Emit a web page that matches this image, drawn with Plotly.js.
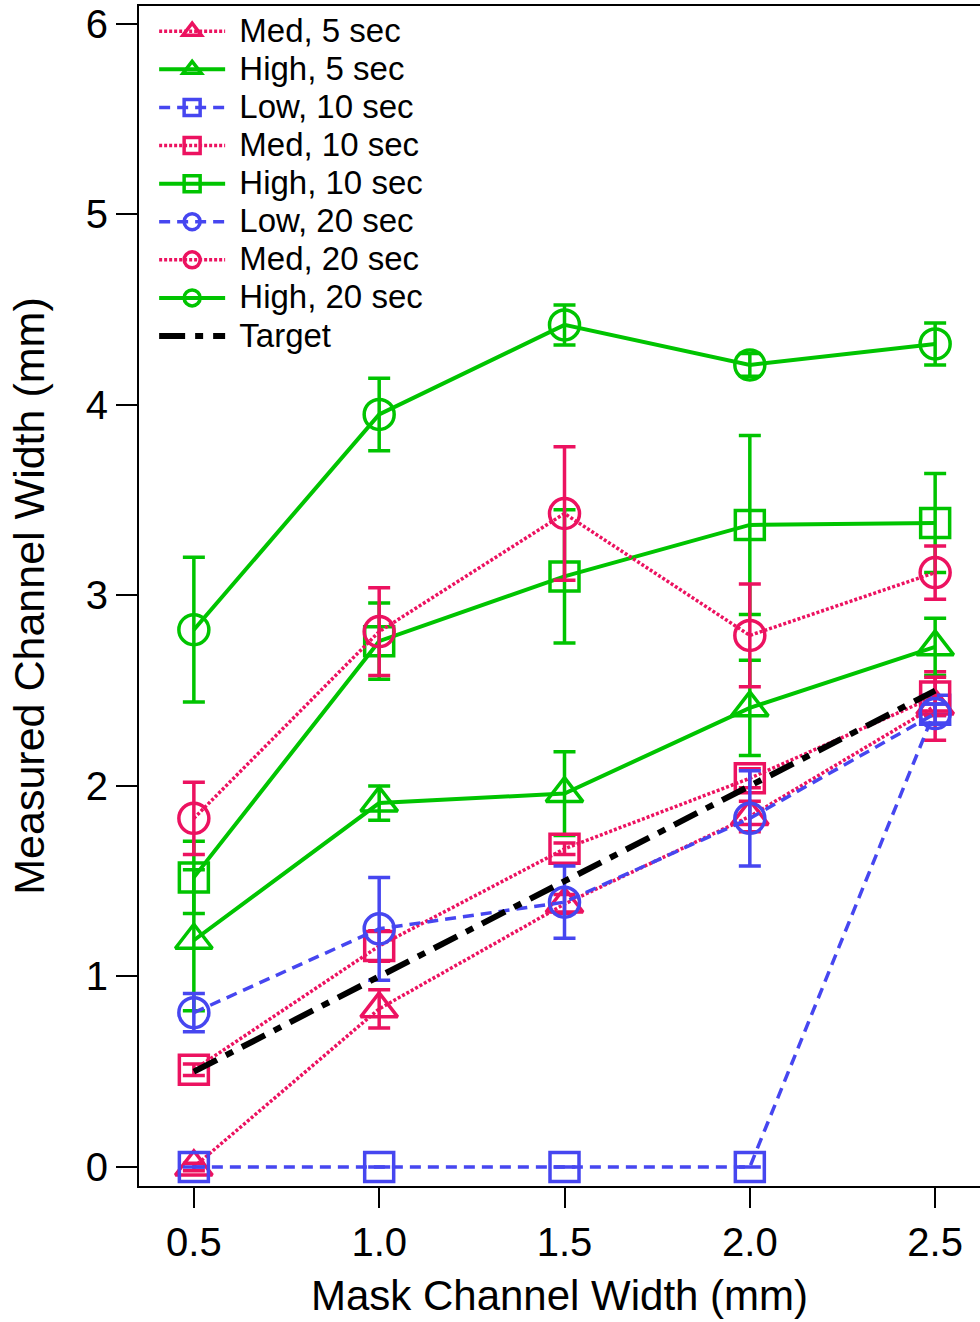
<!DOCTYPE html>
<html>
<head>
<meta charset="utf-8">
<script src="https://cdn.plot.ly/plotly-3.0.1.min.js"></script>
<style>html,body{margin:0;padding:0;background:#fff;}#chart{width:980px;height:1322px;}</style>
</head>
<body>
<div id="chart"></div>
<script>
// Mask channel widths (mm)
const maskWidth = [0.5, 1.0, 1.5, 2.0, 2.5];

// Series names
const seriesNames = ["Med, 5 sec", "High, 5 sec", "Low, 10 sec", "Med, 10 sec", "High, 10 sec",
                     "Low, 20 sec", "Med, 20 sec", "High, 20 sec", "Target"];

// Measured channel widths (mm)
const med5   = [0.00, 0.83, 1.38, 1.84, 2.42];
const high5  = [1.19, 1.91, 1.96, 2.41, 2.73];
const low10  = [0.00, 0.00, 0.00, 0.00, 2.40];
const med10  = [0.51, 1.16, 1.67, 2.04, 2.47];
const high10 = [1.52, 2.76, 3.10, 3.37, 3.38];
const low20  = [0.81, 1.25, 1.39, 1.83, 2.38];
const med20  = [1.83, 2.81, 3.43, 2.79, 3.12];
const high20 = [2.82, 3.95, 4.42, 4.21, 4.32];
const target = [0.5, 1.0, 1.5, 2.0, 2.5];

// Error bars (mm)
const med5Err   = [0.02, 0.10, 0.05, 0.08, 0.18];
const high5Err  = [0.37, 0.09, 0.22, 0.25, 0.15];
const low10Err  = [0.00, 0.00, 0.00, 0.00, 0.03];
const med10Err  = [0.03, 0.08, 0.03, 0.05, 0.10];
const high10Err = [0.19, 0.20, 0.35, 0.47, 0.26];
const low20Err  = [0.10, 0.27, 0.19, 0.25, 0.05];
const med20Err  = [0.19, 0.23, 0.35, 0.27, 0.14];
const high20Err = [0.38, 0.19, 0.105, 0.06, 0.11];

const PINK = "#EC1260";
const GREEN = "#00C400";
const BLUE = "#4646F0";

function legendName(name) {
  return '<span style="font-size:33px">&#160;' + name + '</span>';
}

function tr(name, y, err, color, dash, lw, symbol, size) {
  return {
    x: maskWidth, y: y, type: "scatter", mode: "lines+markers",
    name: legendName(name),
    line: {color: color, width: lw, dash: dash},
    marker: {symbol: symbol, size: size, color: color, line: {color: color, width: 3.5}},
    error_y: {type: "data", array: err, visible: true, color: color, thickness: 3.5, width: 11},
    cliponaxis: false
  };
}

const dotDash = "3px,2px";
const blueDash = "11px,7px";

const traces = [
  tr(seriesNames[0], med5,   med5Err,   PINK,  dotDash,  3.5, "triangle-up-open", 32),
  tr(seriesNames[1], high5,  high5Err,  GREEN, "solid",  4,   "triangle-up-open", 32),
  tr(seriesNames[2], low10,  low10Err,  BLUE,  blueDash, 3.5, "square-open", 29),
  tr(seriesNames[3], med10,  med10Err,  PINK,  dotDash,  3.5, "square-open", 29),
  tr(seriesNames[4], high10, high10Err, GREEN, "solid",  4,   "square-open", 29),
  tr(seriesNames[5], low20,  low20Err,  BLUE,  blueDash, 3.5, "circle-open", 30),
  tr(seriesNames[6], med20,  med20Err,  PINK,  dotDash,  3.5, "circle-open", 30),
  tr(seriesNames[7], high20, high20Err, GREEN, "solid",  4,   "circle-open", 30),
  {
    x: maskWidth, y: target, type: "scatter", mode: "lines",
    name: legendName(seriesNames[8]),
    line: {color: "#000", width: 6, dash: "26px,10px,8px,10px"}
  }
];

const FONT = "Liberation Sans, Arial, sans-serif";

const layout = {
  width: 980, height: 1322,
  paper_bgcolor: "#fff", plot_bgcolor: "#fff",
  margin: {l: 139, r: 0, t: 6, b: 136, pad: 0},
  font: {family: FONT, color: "#000"},
  showlegend: true,
  legend: {
    x: 0.018, y: 0.999, xanchor: "left", yanchor: "top",
    bgcolor: "rgba(0,0,0,0)", borderwidth: 0,
    font: {family: FONT, size: 27, color: "#000"},
    itemwidth: 66, tracegroupgap: 0
  },
  xaxis: {
    range: [0.352, 2.621],
    tickvals: maskWidth, ticktext: maskWidth.map(v => v.toFixed(1)),
    ticks: "outside", ticklen: 20, tickwidth: 2, tickcolor: "#000",
    tickfont: {family: FONT, size: 40, color: "#000"},
    showline: true, linecolor: "#000", linewidth: 2, mirror: true,
    showgrid: false, zeroline: false,
    title: {text: "Mask Channel Width (mm)", font: {family: FONT, size: 42, color: "#000"}, standoff: 18}
  },
  yaxis: {
    range: [-0.1, 6.094],
    tickvals: [0, 1, 2, 3, 4, 5, 6],
    ticks: "outside", ticklen: 21, tickwidth: 2, tickcolor: "#000",
    tickfont: {family: FONT, size: 40, color: "#000"},
    showline: true, linecolor: "#000", linewidth: 2, mirror: true,
    showgrid: false, zeroline: false,
    title: {text: "Measured Channel Width (mm)", font: {family: FONT, size: 43, color: "#000"}, standoff: 28}
  }
};

Plotly.newPlot("chart", traces, layout, {displayModeBar: false, staticPlot: true});
</script>
</body>
</html>
